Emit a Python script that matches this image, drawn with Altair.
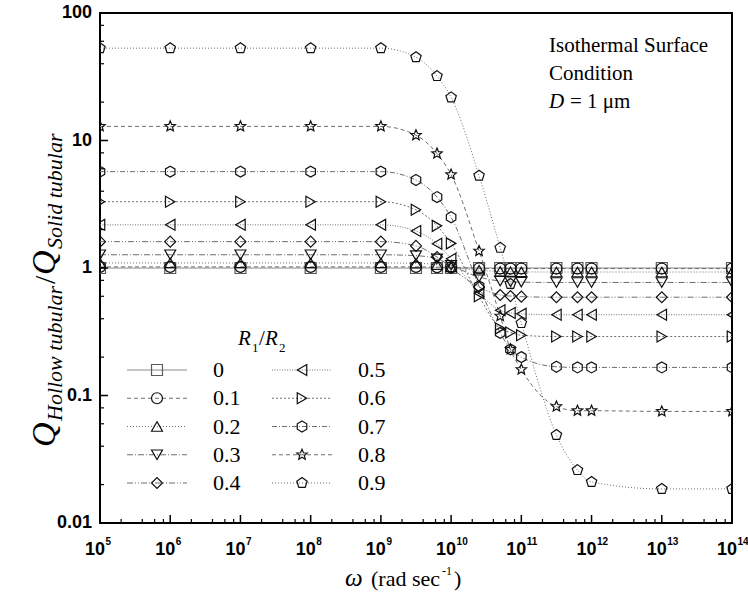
import math
import altair as alt
import pandas as pd

# ---------------- data ----------------
omega = [1e5, 1e6, 1e7, 1e8, 1e9, 3.16e9, 6.3e9, 1e10, 2.5e10, 5e10, 7e10, 1e11,
         3.16e11, 6.3e11, 1e12, 1e13, 1e14]
ratios = ["0", "0.1", "0.2", "0.3", "0.4", "0.5", "0.6", "0.7", "0.8", "0.9"]

q_r00 = [1.0, 1.0, 1.0, 1.0, 1.0, 1.0, 1.0, 1.0, 1.0, 1.0, 1.0, 1.0, 1.0, 1.0, 1.0, 1.0, 1.0]
q_r01 = [1.02, 1.02, 1.02, 1.02, 1.02, 1.02, 1.015, 1.01, 0.995, 0.99, 0.99, 0.99, 0.99, 0.99, 0.99, 0.99, 0.99]
q_r02 = [1.095, 1.095, 1.095, 1.095, 1.095, 1.09, 1.06, 1.02, 0.96, 0.94, 0.935, 0.932, 0.93, 0.93, 0.93, 0.93, 0.93]
q_r03 = [1.27, 1.27, 1.27, 1.27, 1.27, 1.25, 1.18, 1.05, 0.85, 0.79, 0.78, 0.775, 0.77, 0.77, 0.77, 0.77, 0.77]
q_r04 = [1.61, 1.61, 1.61, 1.61, 1.61, 1.49, 1.22, 1.0, 0.71, 0.614, 0.602, 0.596, 0.59, 0.59, 0.59, 0.59, 0.59]
q_r05 = [2.18, 2.18, 2.18, 2.18, 2.18, 1.95, 1.55, 1.18, 0.635, 0.466, 0.444, 0.437, 0.43, 0.43, 0.43, 0.43, 0.43]
q_r06 = [3.31, 3.31, 3.31, 3.31, 3.31, 2.86, 2.14, 1.56, 0.60, 0.336, 0.312, 0.297, 0.29, 0.29, 0.29, 0.29, 0.29]
q_r07 = [5.7, 5.7, 5.7, 5.7, 5.7, 4.9, 3.6, 2.5, 0.72, 0.31, 0.23, 0.20, 0.168, 0.166, 0.166, 0.166, 0.166]
q_r08 = [12.9, 12.9, 12.9, 12.9, 12.9, 11.0, 7.9, 5.4, 1.36, 0.42, 0.23, 0.16, 0.082, 0.076, 0.076, 0.075, 0.075]
q_r09 = [53.0, 53.0, 53.0, 53.0, 53.0, 45.0, 32.0, 21.8, 5.3, 1.44, 0.75, 0.37, 0.049, 0.026, 0.021, 0.0185, 0.0185]
series_values = [q_r00, q_r01, q_r02, q_r03, q_r04, q_r05, q_r06, q_r07, q_r08, q_r09]

x_major = [1e5, 1e6, 1e7, 1e8, 1e9, 1e10, 1e11, 1e12, 1e13, 1e14]
x_exponents = ["5", "6", "7", "8", "9", "10", "11", "12", "13", "14"]
y_major = [0.01, 0.1, 1, 10, 100]
y_labels = ["0.01", "0.1", "1", "10", "100"]
minor_mult = [2, 4, 6, 8]

# ---------------- styles ----------------
W, H = 632, 510
SERIF = "Liberation Serif"
SANS = "Liberation Sans"


def poly(n, r_out, r_in=None, rot=-90):
    pts = []
    k = n * 2 if r_in is not None else n
    for i in range(k):
        r = r_out if (r_in is None or i % 2 == 0) else r_in
        a = math.radians(rot + i * 360.0 / k)
        pts.append((r * math.cos(a), r * math.sin(a)))
    return "M" + " L".join(f"{x:.3f},{y:.3f}" for x, y in pts) + " Z"


hexagon = poly(6, 1.0)
pentagon = poly(5, 1.0)
star = poly(5, 1.0, 0.45)

shapes = ["square", "circle", "triangle-up", "triangle-down", "diamond",
          "triangle-left", "triangle-right", hexagon, star, pentagon]
dashes = [[1, 0], [4, 3], [1, 2], [6, 2, 1, 2], [6, 2, 1, 2, 1, 2],
          [1, 1.5], [2, 2], [5, 2, 1, 2], [4, 3], [1, 2]]
line_colors = ["#8a8a8a"] + ["#6e6e6e"] * 9
marker_colors = ["#5a5a5a"] + ["#111111"] * 9
sizes = [120, 120, 130, 130, 140, 120, 120, 150, 170, 150]

rows = []
for s, vals in zip(ratios, series_values):
    for o, v in zip(omega, vals):
        rows.append({"omega": o, "q": v, "series": s})
df = pd.DataFrame(rows)

xs = alt.Scale(type="log", domain=[1e5, 1e14], nice=False)
ys = alt.Scale(type="log", domain=[0.01, 100], nice=False)
dash_scale = alt.Scale(domain=ratios, range=dashes)
shape_scale = alt.Scale(domain=ratios, range=shapes)
lcolor_scale = alt.Scale(domain=ratios, range=line_colors)
mcolor_scale = alt.Scale(domain=ratios, range=marker_colors)
size_scale = alt.Scale(domain=ratios, range=sizes)

X = alt.X("omega:Q", scale=xs, axis=None)
Y = alt.Y("q:Q", scale=ys, axis=None)

lines = alt.Chart(df).mark_line(strokeWidth=1, interpolate="monotone", clip=True).encode(
    x=X, y=Y, detail="series:N",
    strokeDash=alt.StrokeDash("series:N", scale=dash_scale, legend=None),
    color=alt.Color("series:N", scale=lcolor_scale, legend=None),
)
points = alt.Chart(df).mark_point(filled=False, strokeWidth=1.2, opacity=1, clip=True).encode(
    x=X, y=Y,
    shape=alt.Shape("series:N", scale=shape_scale, legend=None),
    size=alt.Size("series:N", scale=size_scale, legend=None),
    stroke=alt.Stroke("series:N", scale=mcolor_scale, legend=None),
)

# ---------------- ticks ----------------
xmin = [m * 10 ** k for k in range(5, 14) for m in minor_mult]
ymin = [m * 10 ** k for k in range(-2, 2) for m in minor_mult]
tx_major = alt.Chart(pd.DataFrame({"omega": x_major})).mark_rule(color="black", strokeWidth=1.5).encode(
    x=alt.X("omega:Q", scale=xs, axis=None), y=alt.value(H), y2=alt.value(H - 8))
tx_minor = alt.Chart(pd.DataFrame({"omega": xmin})).mark_rule(color="black", strokeWidth=1.2).encode(
    x=alt.X("omega:Q", scale=xs, axis=None), y=alt.value(H), y2=alt.value(H - 4))
ty_major = alt.Chart(pd.DataFrame({"q": y_major})).mark_rule(color="black", strokeWidth=1.5).encode(
    y=alt.Y("q:Q", scale=ys, axis=None), x=alt.value(0), x2=alt.value(8))
ty_minor = alt.Chart(pd.DataFrame({"q": ymin})).mark_rule(color="black", strokeWidth=1.2).encode(
    y=alt.Y("q:Q", scale=ys, axis=None), x=alt.value(0), x2=alt.value(4))

ylab = alt.Chart(pd.DataFrame({"q": y_major, "lab": y_labels})).mark_text(
    font=SANS, fontWeight="bold", fontSize=18, align="right", baseline="middle", dx=-8).encode(
    y=alt.Y("q:Q", scale=ys, axis=None), x=alt.value(0), text="lab:N")
xlab10 = alt.Chart(pd.DataFrame({"omega": x_major})).mark_text(
    font=SANS, fontWeight="bold", fontSize=18, align="right", baseline="alphabetic", dx=5).encode(
    x=alt.X("omega:Q", scale=xs, axis=None), y=alt.value(H + 32), text=alt.value("10"))
xlabexp = alt.Chart(pd.DataFrame({"omega": x_major, "e": x_exponents})).mark_text(
    font=SANS, fontWeight="bold", fontSize=10, align="left", baseline="alphabetic", dx=5.5).encode(
    x=alt.X("omega:Q", scale=xs, axis=None), y=alt.value(H + 22), text="e:N")

one = pd.DataFrame({"a": [0]})


def txt(s, x, y, size, font=SERIF, style="normal", weight="normal", angle=0, align="left", baseline="alphabetic"):
    return alt.Chart(one).mark_text(text=s, font=font, fontSize=size, fontStyle=style, fontWeight=weight,
                                    angle=angle, align=align, baseline=baseline, color="black").encode(
        x=alt.value(x), y=alt.value(y))


# x title
xtitle = [
    txt("ω", 245, 573, 25, style="italic"),
    txt("(rad sec", 271, 573, 22),
    txt("-1", 342, 562, 12),
    txt(")", 354, 573, 22),
]
# y title (rotated)
ytitle = [
    txt("Q", -45, 434, 34, style="italic", angle=270),
    txt("Hollow tubular", -38, 408, 22, style="italic", angle=270),
    txt("/", -45, 271, 30, angle=270),
    txt("Q", -45, 262, 34, style="italic", angle=270),
    txt("Solid tubular", -38, 236, 22, style="italic", angle=270),
]
# annotation
annot = [
    txt("Isothermal Surface", 449, 39, 21),
    txt("Condition", 449, 67, 21),
    txt("D", 449, 95, 21, style="italic"),
    txt("= 1 μm", 470, 95, 21),
]

# legend
leg = pd.DataFrame({"series": ratios})
leg["col"] = [i // 5 for i in range(len(ratios))]
leg["row"] = [i % 5 for i in range(len(ratios))]
leg["lx0"] = 27 + leg["col"] * 145
leg["lx1"] = leg["lx0"] + 60
leg["sx"] = leg["lx0"] + 30
leg["tx"] = leg["lx0"] + 86
leg["ly"] = 357 + leg["row"] * 28.25

leg_lines = alt.Chart(leg).mark_rule(strokeWidth=1).encode(
    x=alt.X("lx0:Q", scale=None, axis=None), x2="lx1:Q", y=alt.Y("ly:Q", scale=None, axis=None),
    strokeDash=alt.StrokeDash("series:N", scale=dash_scale, legend=None),
    color=alt.Color("series:N", scale=lcolor_scale, legend=None),
)
leg_pts = alt.Chart(leg).mark_point(filled=False, strokeWidth=1.2, opacity=1).encode(
    x=alt.X("sx:Q", scale=None, axis=None), y=alt.Y("ly:Q", scale=None, axis=None),
    shape=alt.Shape("series:N", scale=shape_scale, legend=None),
    size=alt.Size("series:N", scale=size_scale, legend=None),
    stroke=alt.Stroke("series:N", scale=mcolor_scale, legend=None),
)
leg_txt = alt.Chart(leg).mark_text(font=SERIF, fontSize=22, align="left", baseline="middle").encode(
    x=alt.X("tx:Q", scale=None, axis=None), y=alt.Y("ly:Q", scale=None, axis=None), text="series:N")
leg_title = [
    txt("R", 138, 332, 21, style="italic"),
    txt("1", 152, 339, 13),
    txt("/", 159, 332, 21),
    txt("R", 165, 332, 21, style="italic"),
    txt("2", 179, 339, 13),
]

chart = alt.layer(
    lines, points, tx_major, tx_minor, ty_major, ty_minor, ylab, xlab10, xlabexp,
    *xtitle, *ytitle, *annot, leg_lines, leg_pts, leg_txt, *leg_title,
).properties(
    width=W, height=H,
    autosize=alt.AutoSizeParams(type="none"),
    padding={"left": 100, "top": 13, "right": 16, "bottom": 83},
).configure_view(stroke="black", strokeWidth=2)

chart.save("out.html", embed_options={"renderer": "svg", "actions": False})
